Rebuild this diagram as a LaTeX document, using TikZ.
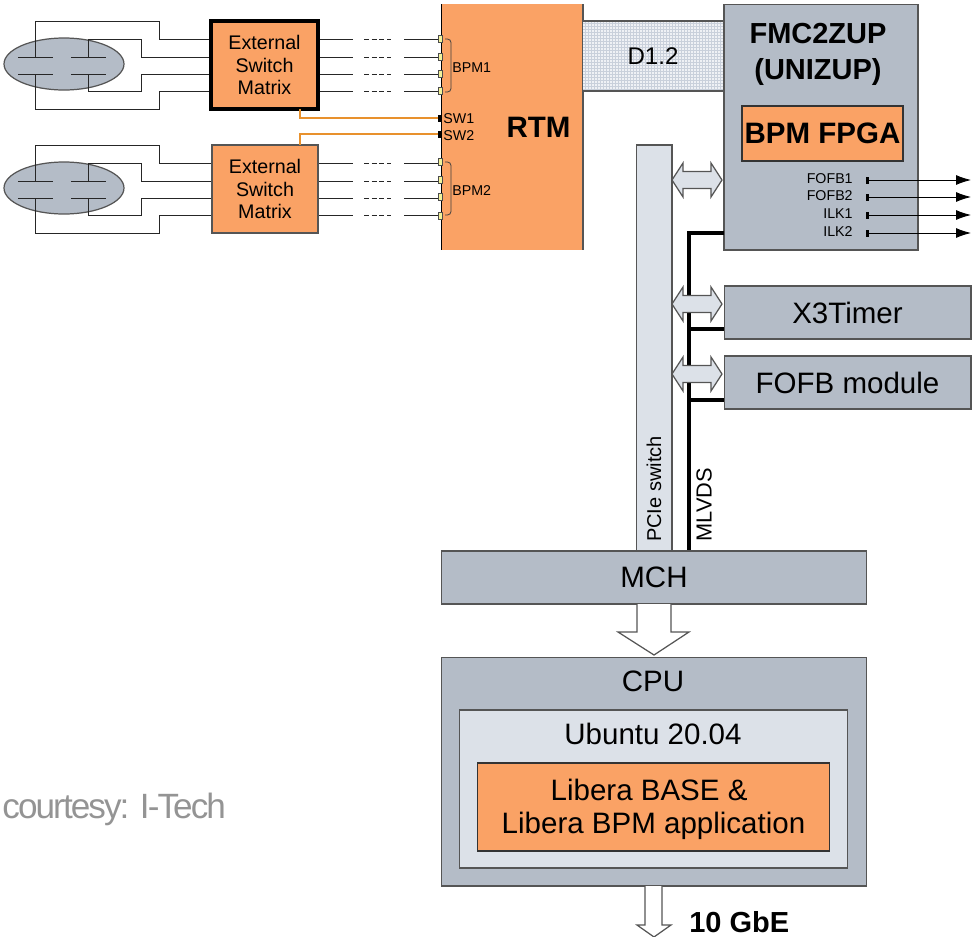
\documentclass[tikz,border=0pt]{standalone}
\usepackage{fontspec}
\setmainfont{Liberation Sans}
\newfontfamily\tightfont[LetterSpace=-5.5]{Liberation Sans}
\usetikzlibrary{calc,arrows.meta,shapes.geometric}
\definecolor{boxgray}{HTML}{B4BCC7}
\definecolor{palegray}{HTML}{DCE1E8}
\definecolor{boxorange}{HTML}{FAA265}
\definecolor{wireorange}{HTML}{E8912D}
\definecolor{portyellow}{HTML}{F2F29A}
\definecolor{edgegray}{HTML}{555555}
\definecolor{gridblue}{HTML}{C9D0DB}
\tikzset{
  block/.style={draw=edgegray,line width=0.6pt,inner sep=0pt,align=center,font=\fontsize{16.8}{19}\selectfont},
  graybox/.style={block,fill=boxgray},
  palebox/.style={block,fill=palegray},
  orangebox/.style={block,fill=boxorange},
  wire/.style={draw=black!85,line width=0.55pt},
  syncwire/.style={draw=wireorange,line width=1.1pt},
  busline/.style={draw=black,line width=1.8pt},
  hollow/.style={draw=edgegray,line width=0.7pt,line join=miter},
  portlabel/.style={inner sep=0pt,font=\fontsize{8.1}{9}\selectfont},
  boxtext/.style={inner sep=0pt,align=center,font=\fontsize{16.8}{18.8}\selectfont},
}
\begin{document}
\begin{tikzpicture}[x=0.02cm,y=-0.02cm]
  \useasboundingbox (0,0) rectangle (975,937);

  % two pickup stations with their switch matrices
  \foreach \name/\dy in {one/0,two/124}{
    \begin{scope}[shift={(0,\dy)}]
      \node[draw=edgegray,fill=boxgray,line width=0.7pt,ellipse,minimum width=2.4cm,minimum height=1.04cm,inner sep=0pt] (bpm\name) at (64,64) {};
      \draw[wire] (18,57) -- (53,57) (71,57) -- (106,57) (18,74) -- (53,74) (71,74) -- (106,74);
      \draw[wire] (35,57) -- (35,21) -- (159,21) -- (159,39) -- (211,39);
      \draw[wire] (88,57) -- (88,39) -- (141,39) -- (141,57) -- (211,57);
      \draw[wire] (88,74) -- (88,91) -- (141,91) -- (141,74) -- (211,74);
      \draw[wire] (35,74) -- (35,109) -- (159,109) -- (159,91) -- (211,91);
      \foreach \y in {39,57,74,91}{
        \draw[wire] (318,\y) -- (353,\y);
        \draw[wire,dash pattern=on 2.8pt off 1.6pt] (364,\y) -- (391,\y);
        \draw[wire] (404,\y) -- (438,\y);
      }
    \end{scope}
  }
  \node[orangebox,line width=2.2pt,draw=black,minimum width=2.14cm,minimum height=1.76cm,font=\fontsize{11.2}{12.6}\selectfont] (matrixone) at (264.5,65) {External\\Switch\\Matrix};
  \node[orangebox,minimum width=2.12cm,minimum height=1.76cm,font=\fontsize{11.2}{12.6}\selectfont] (matrixtwo) at (265,189) {External\\Switch\\Matrix};

  % rear transition module
  \fill[boxorange] (441.5,4) rectangle (583,250);
  \draw[black,line width=0.6pt] (441.5,4) -- (441.5,250);
  \draw[edgegray,line width=0.7pt] (583,4) -- (583,250);
  \node[inner sep=0pt,font=\bfseries\fontsize{16.8}{19}\selectfont] (rtm) at (538.5,127) {RTM};

  % grid link to the carrier
  \fill[palegray!45] (583,21) rectangle (724,91);
  \foreach \x in {585,588,...,724}{\draw[gridblue,line width=0.3pt] (\x,21) -- (\x,91);}
  \foreach \y in {23,26,...,91}{\draw[gridblue,line width=0.3pt] (583,\y) -- (724,\y);}
  \draw[edgegray,line width=0.6pt] (583,21) -- (724,21) (583,91) -- (724,91);
  \node[inner sep=0pt,font=\fontsize{13.7}{14}\selectfont] (link) at (653,56) {D1.2};

  % connectors of the module
  \draw[syncwire] (300,109) -- (300,118) -- (438,118);
  \draw[syncwire] (300,145) -- (300,134) -- (438,134);
  \foreach \y in {39,57,74,91,162,180,197,216}{
    \draw[draw=black!70,fill=portyellow,line width=0.4pt] (438,\y-3.5) rectangle (442,\y+3.5);
  }
  \foreach \y in {118,134}{
    \fill[black] (438,\y-3.5) rectangle (442,\y+3.5);
  }
  \foreach \y/\txt in {39/BPM1,162/BPM2}{
    \draw[draw=black!75,line width=0.45pt,rounded corners=2pt] (445,\y) -- (451,\y) -- (451,\y+53) -- (445,\y+53);
    \node[portlabel,anchor=west] (lbl\txt) at (452,\y+28.5) {\txt};
  }
  \node[portlabel,anchor=west] (lblswone) at (443,119) {SW1};
  \node[portlabel,anchor=west] (lblswtwo) at (443,135.5) {SW2};

  % carrier and side modules
  \node[graybox,minimum width=3.88cm,minimum height=4.92cm] (fmc) at (821,127) {};
  \node[inner sep=0pt,align=center,font=\bfseries\fontsize{16.5}{20.5}\selectfont] (fmctxt) at (818,54) {FMC2ZUP\\(UNIZUP)};
  \node[orangebox,draw=black!80,minimum width=3.22cm,minimum height=1.1cm,font=\bfseries\fontsize{16.8}{20}\selectfont] (fpga) at (822.5,133.5) {BPM FPGA};
  \foreach \y/\ly/\txt in {180/179/FOFB1,197/196/FOFB2,215/214/ILK1,233/232/ILK2}{
    \node[portlabel,anchor=east] (lbl\txt) at (853,\ly) {\txt};
    \fill[black] (866,\y-3.5) rectangle (869,\y+3.5);
    \coordinate (out\txt) at (971,\y);
    \draw[black,line width=0.5pt,-{Latex[length=0.3cm,width=0.2cm]}] (869,\y) -- (out\txt);
  }
  \node[graybox,minimum width=4.94cm,minimum height=1.06cm] (timer) at (847.5,312.5) {X3Timer};
  \node[graybox,minimum width=4.94cm,minimum height=1.06cm] (fofb) at (847.5,382.5) {FOFB module};

  % backplane
  \draw[busline] (724,233) -- (689,233) -- (689,551);
  \draw[busline] (689,329) -- (724,329);
  \draw[busline] (689,400) -- (724,400);
  \fill[palegray] (636.5,145) rectangle (672,551);
  \draw[edgegray,line width=0.7pt] (636.5,551) -- (636.5,145) -- (672,145) -- (672,551);
  \node[inner sep=0pt,rotate=90,font=\fontsize{11.4}{12}\selectfont] (pcie) at (654,489) {PCIe switch};
  \node[inner sep=0pt,rotate=90,font=\fontsize{12.4}{12}\selectfont] (mlvds) at (704,504.5) {MLVDS};
  \foreach \y in {180,304,374}{
    \draw[hollow,fill=palegray] (672,\y) -- (683,\y-17) -- (683,\y-8.5) -- (711,\y-8.5) -- (711,\y-17) -- (722,\y) -- (711,\y+17) -- (711,\y+8.5) -- (683,\y+8.5) -- (683,\y+17) -- cycle;
  }

  % controller and cpu
  \node[graybox,minimum width=8.5cm,minimum height=1.06cm] (mch) at (654,577.5) {MCH};
  \draw[hollow,fill=white] (637,604) -- (637,632) -- (618,632) -- (654,655) -- (689,632) -- (671,632) -- (671,604);
  \node[graybox,minimum width=8.5cm,minimum height=4.58cm] (cpu) at (654,771.5) {};
  \node[boxtext] (cputxt) at (653,681) {CPU};
  \node[palebox,minimum width=7.78cm,minimum height=3.16cm] (ubuntu) at (653.5,789) {};
  \node[boxtext] (ubuntutxt) at (653,734) {Ubuntu 20.04};
  \node[orangebox,draw=black!80,minimum width=7.06cm,minimum height=1.76cm] (libera) at (653.5,807) {};
  \node[boxtext] (liberatxt) at (653.5,809.5) {Libera BASE \&\hspace*{5pt}\\Libera BPM application};
  \draw[hollow,fill=white] (645,886) -- (645,925) -- (637,925) -- (654,937) -- (671,925) -- (662,925) -- (662,886);
  \node[inner sep=0pt,anchor=west,font=\bfseries\fontsize{16.5}{17}\selectfont] (gbe) at (689,922) {10 GbE};

  \node[inner sep=0pt,anchor=west,text=black!42,font=\tightfont\fontsize{20}{21}\selectfont] (credit) at (2,809) {courtesy: I-Tech};
\end{tikzpicture}
\end{document}
